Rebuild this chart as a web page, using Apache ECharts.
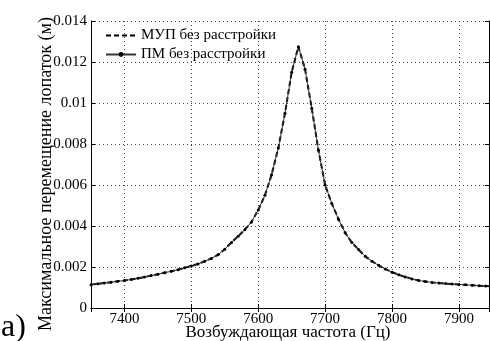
<!DOCTYPE html>
<html>
<head>
<meta charset="utf-8">
<script src="https://cdn.jsdelivr.net/npm/echarts@6/dist/echarts.min.js"></script>
<style>html,body{margin:0;padding:0;background:#fff}#c{width:490px;height:341px}</style>
</head>
<body>
<div id="c"></div>
<script>
const frequencies = [7350,7360,7370,7380,7390,7400,7410,7420,7430,7440,7450,7460,7470,7480,7490,7500,7510,7520,7530,7540,7550,7560,7570,7580,7590,7600,7610,7620,7630,7640,7650,7660,7670,7680,7690,7700,7710,7720,7730,7740,7750,7760,7770,7780,7790,7800,7810,7820,7830,7840,7850,7860,7870,7880,7890,7900,7910,7920,7930,7940,7950];
const mupValues = [0.00114,0.00118,0.00122,0.00126,0.00130,0.00134,0.00139,0.00145,0.00151,0.00158,0.00165,0.00172,0.00179,0.00187,0.00196,0.00205,0.00215,0.00228,0.00242,0.00260,0.00287,0.00320,0.00350,0.00382,0.00420,0.00478,0.00550,0.00650,0.00780,0.00950,0.01150,0.01275,0.01165,0.00975,0.00770,0.00600,0.00510,0.00433,0.00367,0.00319,0.00285,0.00252,0.00228,0.00208,0.00190,0.00175,0.00162,0.00151,0.00142,0.00134,0.00129,0.00125,0.00122,0.00119,0.00117,0.00115,0.00113,0.00111,0.00109,0.00107,0.00106];
const pmValues = mupValues.slice();
const seriesNames = ['МУП без расстройки', 'ПМ без расстройки'];
const xTitle = 'Возбуждающая частота (Гц)';
const yTitle = 'Максимальное перемещение лопаток (м)';
const panelLabel = 'а)';

const FONT = "'Liberation Serif','Times New Roman',serif";
const chart = echarts.init(document.getElementById('c'), null, {renderer: 'canvas'});
const pair = (vals) => frequencies.map((f, i) => [f, vals[i]]);
const gridLine = {show: true, lineStyle: {color: '#444', type: [1, 3], width: 1}};
chart.setOption({
  animation: false,
  backgroundColor: '#fff',
  grid: {left: 91, top: 21, right: 1, bottom: 33, containLabel: false, outerBoundsMode: 'none'},
  legend: {
    orient: 'vertical', left: 100, top: 23, itemGap: 4, itemWidth: 30, itemHeight: 6,
    textStyle: {fontFamily: FONT, fontSize: 15, color: '#000'},
    data: [
      {name: seriesNames[0], itemStyle: {color: 'rgba(0,0,0,0)', borderWidth: 0, opacity: 0}},
      {name: seriesNames[1]}
    ]
  },
  xAxis: [{
    type: 'value', min: 7350, max: 7945, splitNumber: 6,
    axisLine: {lineStyle: {color: '#000', width: 1}},
    axisTick: {inside: true, length: 4, lineStyle: {color: '#000'}},
    axisLabel: {showMinLabel: false, showMaxLabel: false, fontFamily: FONT, fontSize: 15, color: '#000', margin: 4,
      formatter: (v) => String(v)},
    splitLine: gridLine
  }, {
    type: 'value', position: 'top', min: 7350, max: 7945, splitNumber: 6,
    axisLine: {lineStyle: {color: '#000', width: 1}},
    axisTick: {inside: true, length: 4, lineStyle: {color: '#000'}},
    axisLabel: {show: false}, splitLine: {show: false}
  }],
  yAxis: [{
    type: 'value', min: 0, max: 0.014, interval: 0.002,
    axisLine: {show: true, lineStyle: {color: '#000', width: 1}},
    axisTick: {show: true, inside: true, length: 4, lineStyle: {color: '#000'}},
    axisLabel: {fontFamily: FONT, fontSize: 15, color: '#000', margin: 4,
      formatter: (v) => String(parseFloat(v.toFixed(4)))},
    splitLine: gridLine
  }, {
    type: 'value', position: 'right', min: 0, max: 0.014, interval: 0.002,
    axisLine: {show: true, lineStyle: {color: '#000', width: 1}},
    axisTick: {show: true, inside: true, length: 4, lineStyle: {color: '#000'}},
    axisLabel: {show: false}, splitLine: {show: false}
  }],
  graphic: [{
    type: 'text', x: 288, y: 333,
    style: {text: xTitle, font: "17px 'Liberation Serif','Times New Roman',serif", fill: '#000', align: 'center', verticalAlign: 'middle'}
  }, {
    type: 'text', x: 46, y: 174, rotation: Math.PI / 2,
    style: {text: yTitle, font: "18px 'Liberation Serif','Times New Roman',serif", fill: '#000', align: 'center', verticalAlign: 'middle'}
  }, {
    type: 'text', x: 1, y: 312,
    style: {text: panelLabel, font: "32px 'Liberation Serif','Times New Roman',serif", fill: '#000'}
  }],
  series: [{
    name: seriesNames[0], type: 'line', data: pair(mupValues),
    showSymbol: false, symbol: 'none',
    lineStyle: {color: '#000', width: 2, type: [5, 3]},
    itemStyle: {color: '#000'}, z: 3
  }, {
    name: seriesNames[1], type: 'line', data: pair(pmValues),
    symbol: 'circle', symbolSize: 3, showSymbol: true,
    lineStyle: {color: '#333', width: 1},
    itemStyle: {color: '#000'}, z: 4
  }]
});
</script>
</body>
</html>
